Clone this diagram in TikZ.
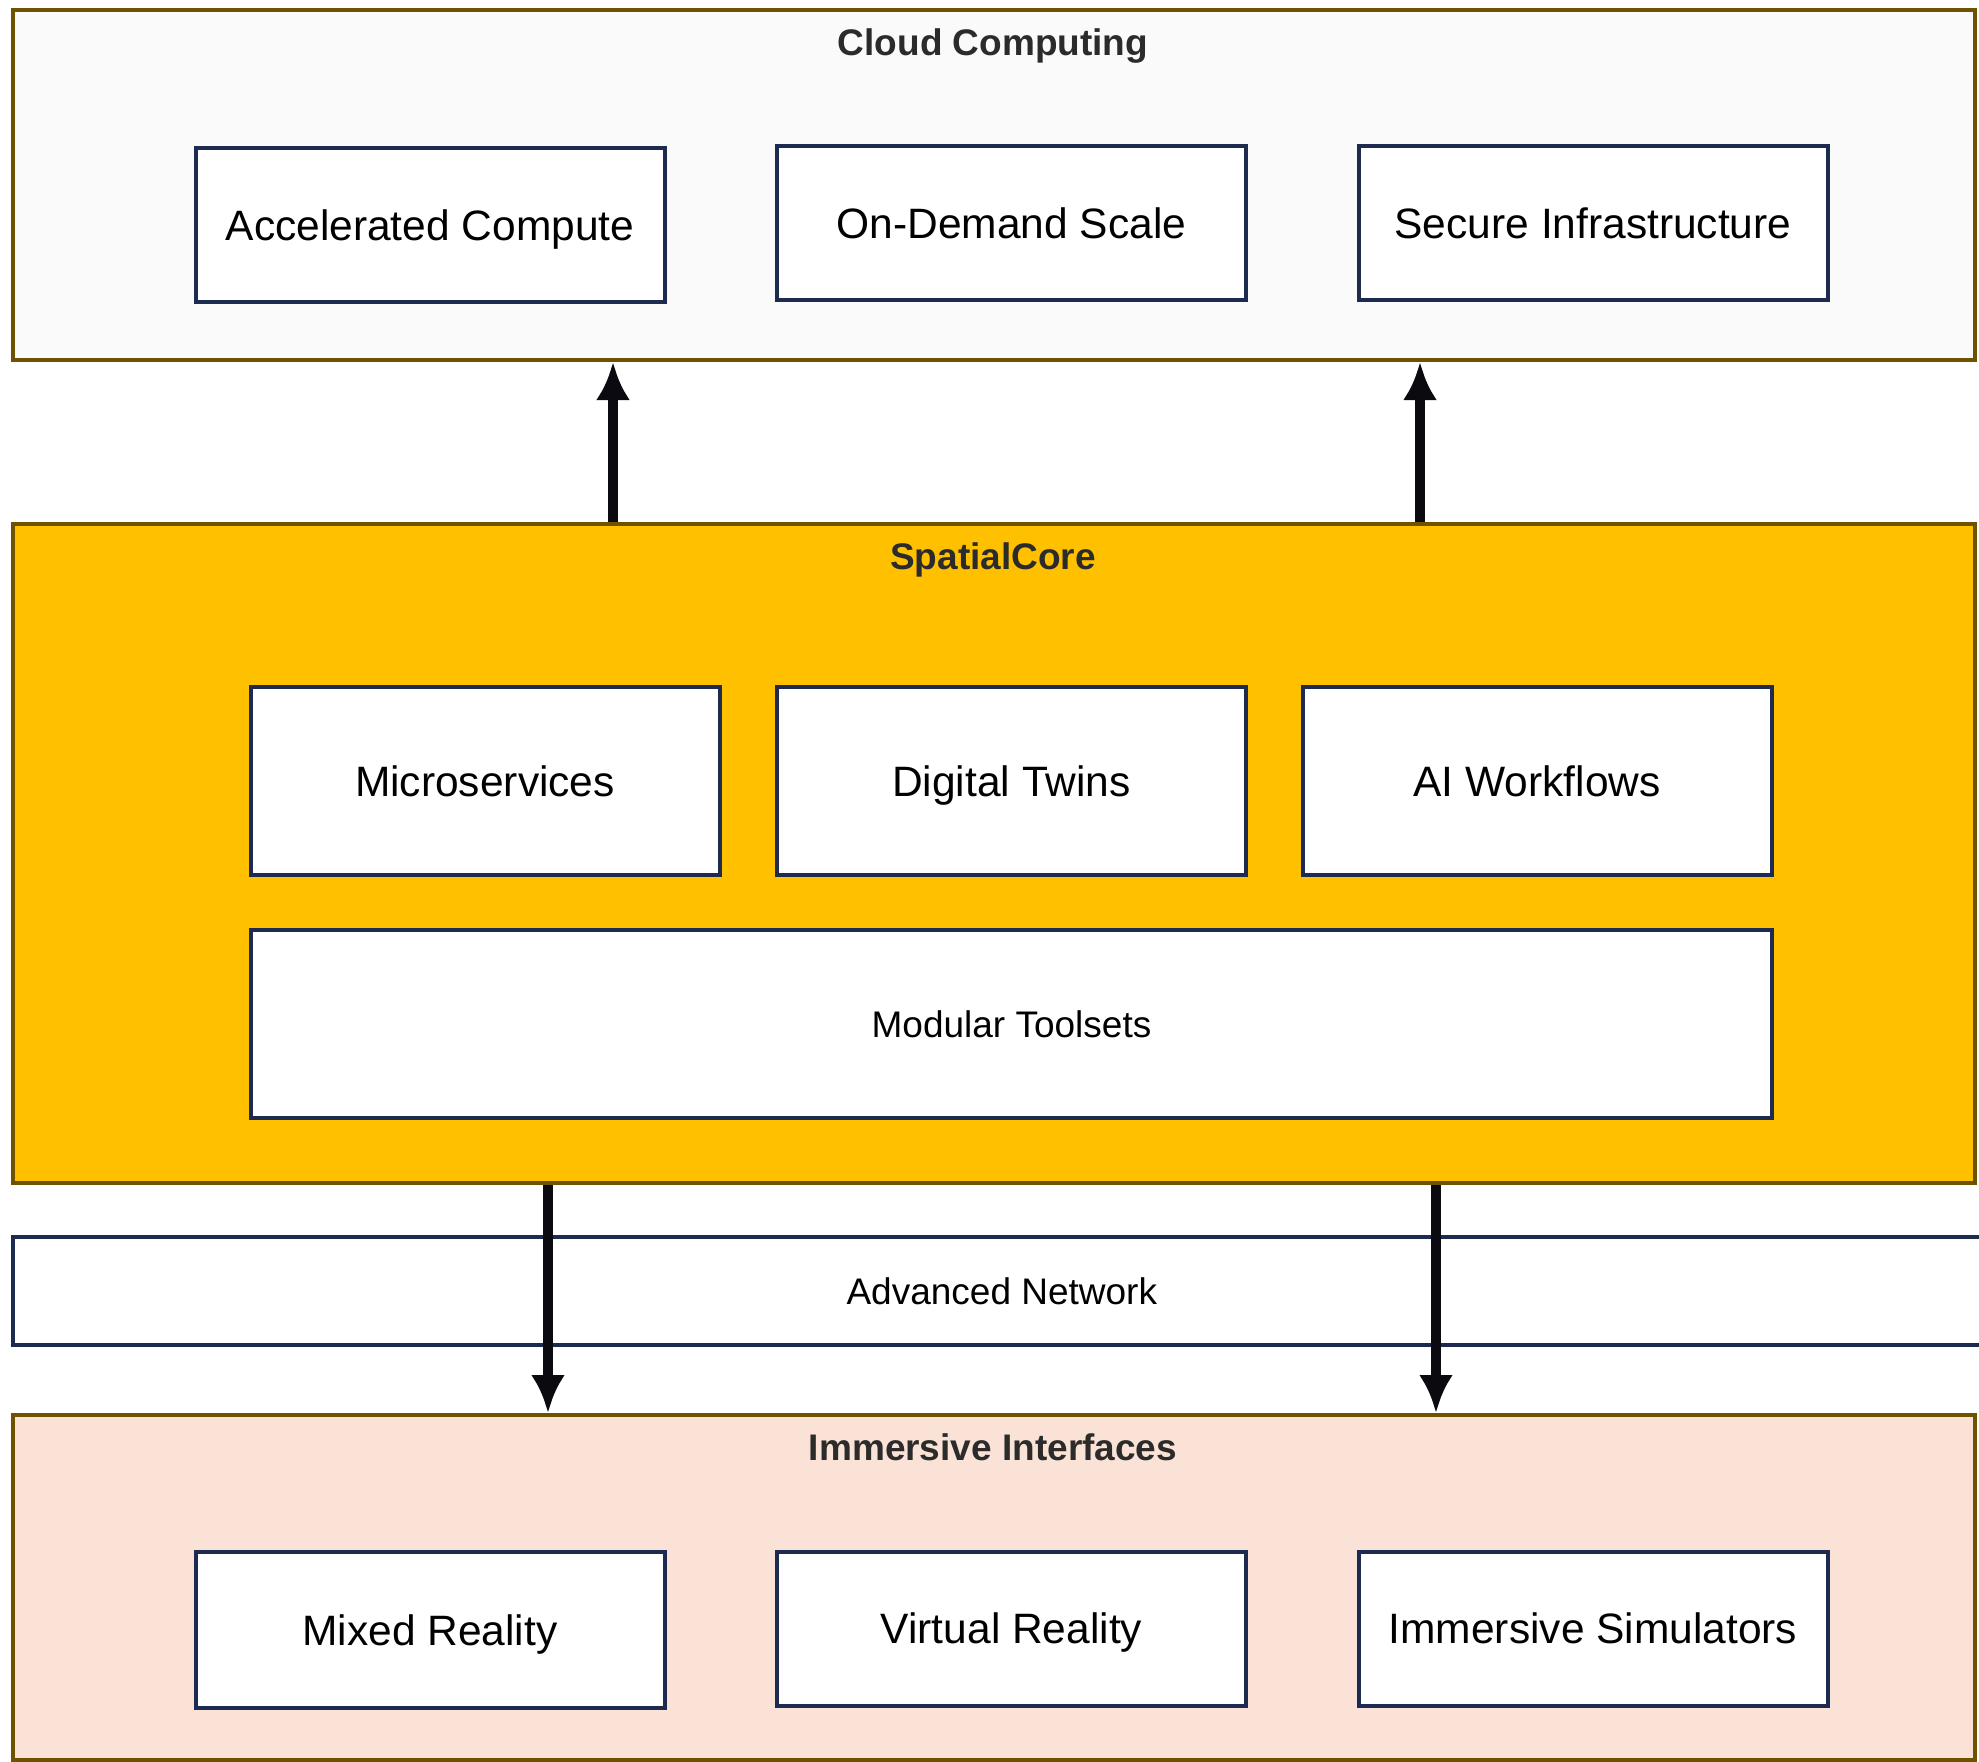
\documentclass[tikz,border=0pt]{standalone}
\usepackage{fontspec}
\setmainfont{Liberation Sans}
\usetikzlibrary{arrows.meta}
\definecolor{panelborder}{HTML}{6E5200}
\definecolor{cloudfill}{HTML}{FAFAFA}
\definecolor{corefill}{HTML}{FFC000}
\definecolor{immfill}{HTML}{FAE3D6}
\definecolor{boxborder}{HTML}{1C2B4F}
\definecolor{titlecol}{HTML}{2B2B2B}
\definecolor{arrcol}{HTML}{0A0A10}
\tikzset{
  panel/.style={draw=panelborder, line width=4pt, rectangle, inner sep=0pt},
  itembox/.style={draw=boxborder, fill=white, line width=4pt, rectangle, inner sep=0pt,
    minimum width=469pt, minimum height=154pt, font=\fontsize{42.5pt}{50pt}\selectfont, text=black,
    text height=30.5pt, text depth=0pt},
  widebox/.style={draw=boxborder, fill=white, line width=4pt, rectangle, inner sep=0pt,
    font=\fontsize{37pt}{44pt}\selectfont, text=black, text height=26.5pt, text depth=0pt},
  paneltitle/.style={font=\fontsize{37pt}{44pt}\selectfont\bfseries, text=titlecol, inner sep=0pt,
    text height=26.5pt, text depth=0pt},
  bigarrow/.style={draw=arrcol, line width=9.5pt, -{Latex[length=38pt,width=34pt]}}
}
\begin{document}
\begin{tikzpicture}[x=1pt,y=-1pt]
\useasboundingbox (0,0) rectangle (1979,1762);
% Cloud Computing panel
\node[panel, fill=cloudfill, minimum width=1962.4pt, minimum height=350pt] (cloud) at (993.8,185) {};
\node[paneltitle] (cloudtitle) at (993,42) {Cloud Computing};
\node[itembox] (acc) at (430,225) {Accelerated Compute};
\node[itembox] (ondemand) at (1011.5,223) {On-Demand Scale};
\node[itembox] (secure) at (1593,223) {Secure Infrastructure};
% SpatialCore panel
\node[panel, fill=corefill, minimum width=1962.4pt, minimum height=659pt] (core) at (993.8,853.5) {};
\node[paneltitle] (coretitle) at (993,556) {SpatialCore};
\node[itembox, minimum height=188pt] (micro) at (485,781) {Microservices};
\node[itembox, minimum height=188pt] (twins) at (1011.5,781) {Digital Twins};
\node[itembox, minimum height=188pt] (ai) at (1537,781) {AI Workflows};
\node[widebox, minimum width=1521pt, minimum height=188pt] (modular) at (1011.5,1024) {Modular Toolsets};
% Advanced Network
\node[widebox, minimum width=1978.4pt, minimum height=108pt] (network) at (1001.8,1291) {Advanced Network};
% Immersive Interfaces panel
\node[panel, fill=immfill, minimum width=1962.4pt, minimum height=345pt] (imm) at (993.8,1587.5) {};
\node[paneltitle] (immtitle) at (993,1447) {Immersive Interfaces};
\node[itembox, minimum height=156pt] (mixed) at (430,1630) {Mixed Reality};
\node[itembox] (virtual) at (1011.5,1628.5) {Virtual Reality};
\node[itembox] (sim) at (1593,1628.5) {Immersive Simulators};
% arrows
\coordinate (ua) at (613,0);
\coordinate (ub) at (1420,0);
\coordinate (da) at (548,0);
\coordinate (db) at (1436,0);
\draw[bigarrow] (core.north -| ua) -- (cloud.south -| ua);
\draw[bigarrow] (core.north -| ub) -- (cloud.south -| ub);
\draw[bigarrow] (core.south -| da) -- (imm.north -| da);
\draw[bigarrow] (core.south -| db) -- (imm.north -| db);
\end{tikzpicture}
\end{document}
